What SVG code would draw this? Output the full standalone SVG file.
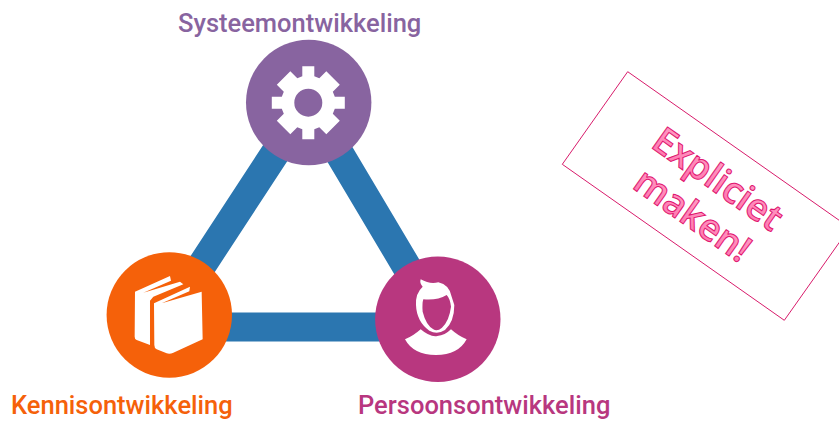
<svg xmlns="http://www.w3.org/2000/svg" width="839" height="423" viewBox="0 0 839 423">
<style>
.lbl{font-family:Roboto,"Liberation Sans",sans-serif;font-weight:500;font-size:25.5px}
.edge{stroke:#2b76b0;stroke-width:29;fill:none}
.ic{fill:#fff}
.call{font-family:"Open Sans","Noto Sans",sans-serif;font-weight:600;font-size:37px;fill:url(#pink);stroke:#e0156f;stroke-width:1;text-anchor:middle}
</style>
<defs>
<linearGradient id="pink" x1="0" y1="0" x2="0" y2="1"><stop offset="0" stop-color="#ffa6cb"/><stop offset="1" stop-color="#ff6faa"/></linearGradient>
</defs>
<rect width="839" height="423" fill="#fff"/>
<g id="connectors">
<path class="edge" d="M308.7 102 L169.3 315 M308.7 102 L437.8 319 M169.3 327 H437.8"/>
</g>
<g id="systeemontwikkeling">
<circle cx="308.7" cy="102.5" r="62.7" fill="#8864a0"/>
<g transform="translate(308.3 102.7)">
<path class="ic" fill-rule="evenodd" d="M-6-36.5H6V-26.5L11-24.5 18-31.5 31.5-18 24.5-11 26.5-6H36.5V6H26.5L24.5 11 31.5 18 18 31.5 11 24.5 6 26.5V36.5H-6V26.5L-11 24.5-18 31.5-31.5 18-24.5 11-26.5 6H-36.5V-6H-26.5L-24.5-11-31.5-18-18-31.5-11-24.5-6-26.5ZM14 0A14 14 0 1 0-14 0 14 14 0 1 0 14 0Z"/>
</g>
<text class="lbl" x="178" y="31.500" fill="#8864a0">Systeemontwikkeling</text>
</g>
<g id="kennisontwikkeling">
<circle cx="169.300" cy="315" r="62.700" fill="#f5610a"/>
<g transform="translate(90 240) scale(.3333)">
<path class="ic" d="M135 155 240 108 243 122 160 158 270 125 280 133 190 170 180 182V315L140 300Q134 298 134 290Z"/>
<path class="ic" d="M192 190 300 140 298 154 215 190 335 155 338 298 250 338Q240 343 230 340L200 328Q193 325 193 315Z"/>
</g>
<text class="lbl" x="11" y="414" fill="#f5610a">Kennisontwikkeling</text>
</g>
<g id="persoonsontwikkeling">
<circle cx="437.800" cy="319.300" r="62.700" fill="#b8377f"/>
<g transform="translate(350 250) scale(.3333)">
<path class="ic" fill-rule="evenodd" d="M212 88 Q240 104 265 97 Q298 104 305 140 L313 165 Q313 215 285 240 Q262 255 238 242 Q200 215 198 165 Q196 130 218 110 Q208 100 212 88ZM220 148 Q216 160 218 185 Q228 225 250 238 Q262 245 276 233 Q298 212 303 170 Q300 145 290 135 Q262 152 220 148Z"/>
<path class="ic" d="M165 268 Q190 258 212 238 Q240 262 262 258 Q285 256 303 238 Q325 258 350 268 Q325 315 258 315 Q190 315 165 268Z"/>
</g>
<text class="lbl" x="358" y="414" fill="#b8377f">Persoonsontwikkeling</text>
</g>
<g id="callout">
<path d="M627.700 71.700 L562.300 164.300 L784.300 320.300 L849.700 227.700Z" fill="none" stroke="#d81b6b" stroke-width="1"/>
<g transform="translate(706 196) rotate(35.100)">
<text class="call" x="0" y="-8">Expliciet</text>
<text class="call" x="0" y="36">maken!</text>
</g>
</g>
</svg>
